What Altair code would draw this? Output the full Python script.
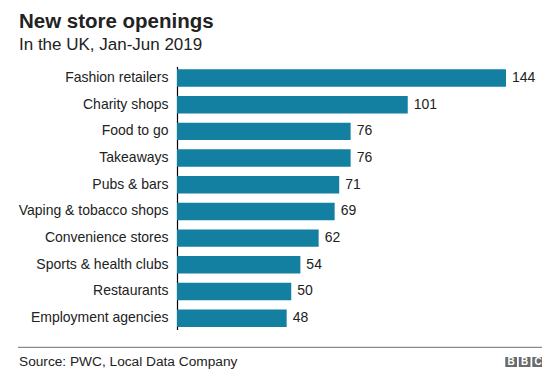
import altair as alt
import pandas as pd

categories = ["Fashion retailers", "Charity shops", "Food to go", "Takeaways",
              "Pubs & bars", "Vaping & tobacco shops", "Convenience stores",
              "Sports & health clubs", "Restaurants", "Employment agencies"]
values = [144, 101, 76, 76, 71, 69, 62, 54, 50, 48]

title_text = "New store openings"
subtitle_text = "In the UK, Jan-Jun 2019"
source_text = "Source: PWC, Local Data Company"
logo_letters = ["B", "B", "C"]

FONT = "Liberation Sans"
BAR = "#1380A1"
TXT = "#222222"

df = pd.DataFrame({"category": categories, "value": values})

y_enc = alt.Y("category:N", sort=categories, title=None,
              scale=alt.Scale(paddingInner=0.345, paddingOuter=0.1),
              axis=alt.Axis(domain=True, domainColor="#000000", domainWidth=1.2,
                            ticks=False, labelPadding=9, labelFontSize=14,
                            labelFont=FONT, labelColor=TXT, grid=False))
x_enc = alt.X("value:Q", title=None, scale=alt.Scale(domain=[0, 144], nice=False),
              axis=None)

base = alt.Chart(df)
bars = base.mark_bar(color=BAR).encode(x=x_enc, y=y_enc)
labels = base.mark_text(align="left", baseline="middle", dx=6, fontSize=14,
                        font=FONT, color=TXT).encode(x=x_enc, y=y_enc, text="value:Q")

def txt(s, x, y, size, weight="normal", color=TXT, align="left"):
    return alt.Chart(pd.DataFrame({"t": [s]})).mark_text(
        align=align, baseline="alphabetic", fontSize=size, fontWeight=weight,
        font=FONT, color=color).encode(x=alt.value(x), y=alt.value(y), text="t:N")

OX, OY = 177, 66.6  # plot origin on page
title = txt(title_text, 19 - OX, 28.3 - OY, 20.5, "bold")
subtitle = txt(subtitle_text, 19 - OX, 50 - OY, 17)
source = txt(source_text, 19 - OX, 366 - OY, 13.7)

rule = alt.Chart(pd.DataFrame({"a": [0]})).mark_rule(color="#8c8c8c", strokeWidth=1.3).encode(
    x=alt.value(18 - OX), x2=alt.value(544 - OX), y=alt.value(347.3 - OY))

logo_layers = []
for i, letter in enumerate(logo_letters):
    x0 = 505.3 + i * 13.5 - OX
    box = alt.Chart(pd.DataFrame({"a": [0]})).mark_rect(color="#6b6b6b").encode(
        x=alt.value(x0), x2=alt.value(x0 + 11.7),
        y=alt.value(357 - OY), y2=alt.value(367 - OY))
    let = alt.Chart(pd.DataFrame({"t": [letter]})).mark_text(
        align="center", baseline="middle", fontSize=10, fontWeight="bold",
        font=FONT, color="#ffffff").encode(
        x=alt.value(x0 + 5.85), y=alt.value(362.4 - OY), text="t:N")
    logo_layers += [box, let]

chart = alt.layer(bars, labels, title, subtitle, source, rule, *logo_layers).properties(
    width=329, height=263,
    autosize=alt.AutoSizeParams(type="none"),
    padding={"left": 169, "top": 58.6, "right": 36, "bottom": 44},
    background="#ffffff",
).configure_view(stroke=None)

chart.save("out.html", embed_options={"renderer": "svg", "actions": False})
